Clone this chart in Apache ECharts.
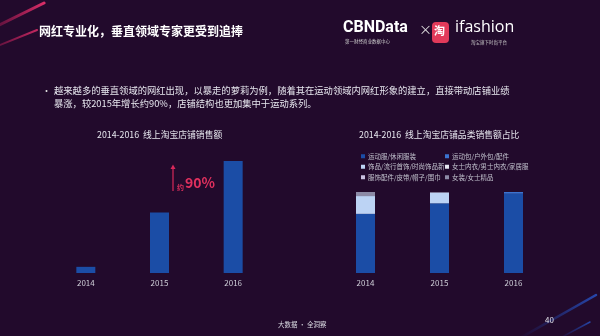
<!DOCTYPE html>
<html><head><meta charset="utf-8">
<script src="https://cdn.jsdelivr.net/npm/echarts@6/dist/echarts.min.js"></script>
<style>html,body{margin:0;padding:0;background:#220a2c;}#c{width:600px;height:336px;}</style>
</head><body><div id="c"></div>
<script>
const years = ['2014', '2015', '2016'];
const salesValues = [5.5, 54, 100];
const catNames = ['运动服/休闲服装', '运动包/户外包/配件', '饰品/流行首饰/时尚饰品新', '女士内衣/男士内衣/家居服', '服饰配件/皮带/帽子/围巾', '女装/女士精品'];
const catColors = ['#1b4da6', '#3b73d0', '#bcd3f4', '#e6e6f0', '#c8c0e0', '#8c8aa6'];
const catShares = [
  [73, 86, 98],
  [0, 0, 2],
  [22, 13, 0],
  [0, 0, 0],
  [0, 0, 0],
  [5, 1, 0]
];
const slideTitle = '网红专业化，垂直领域专家更受到追捧';
const bulletLines = ['越来越多的垂直领域的网红出现，以暴走的萝莉为例，随着其在运动领域内网红形象的建立，直接带动店铺业绩', '暴涨，较2015年增长约90%，店铺结构也更加集中于运动系列。'];
const leftTitle = '2014-2016  线上淘宝店铺销售额';
const rightTitle = '2014-2016  线上淘宝店铺品类销售额占比';

const chart = echarts.init(document.getElementById('c'));
const FONT = '"Noto Sans CJK SC", "Noto Sans", sans-serif';
const axisCommon = {
  axisLine: {show: false}, axisTick: {show: false},
  axisLabel: {color: '#cfcfd8', fontSize: 8, margin: 6, fontFamily: FONT}
};
const series = [{
  type: 'bar', xAxisIndex: 0, yAxisIndex: 0, data: salesValues, barWidth: 19,
  itemStyle: {color: '#1b4da6'}, silent: true
}];
catNames.forEach((n, i) => {
  series.push({
    name: n, type: 'bar', stack: 'share', xAxisIndex: 1, yAxisIndex: 1,
    data: catShares[i], barWidth: 19, itemStyle: {color: catColors[i]}
  });
});
const legendStyle = {
  orient: 'vertical', itemWidth: 4, itemHeight: 4, itemGap: 4, icon: 'rect',
  textStyle: {color: '#c0c0cc', fontSize: 6.5, fontFamily: FONT, padding: [0, 0, 0, -2]}, selectedMode: false
};
chart.setOption({
  backgroundColor: '#220a2c',
  animation: false,
  textStyle: {fontFamily: FONT},
  grid: [
    {left: 49, width: 221, top: 161, bottom: 63},
    {left: 328.5, width: 222, top: 192, bottom: 63}
  ],
  xAxis: [
    Object.assign({type: 'category', gridIndex: 0, data: years}, axisCommon),
    Object.assign({type: 'category', gridIndex: 1, data: years}, axisCommon)
  ],
  yAxis: [
    {type: 'value', gridIndex: 0, min: 0, max: 100, show: false},
    {type: 'value', gridIndex: 1, min: 0, max: 100, show: false}
  ],
  legend: [
    Object.assign({left: 356, top: 148, data: [catNames[0], catNames[2], catNames[4]]}, legendStyle),
    Object.assign({left: 440, top: 148, data: [catNames[1], catNames[3], catNames[5]]}, legendStyle)
  ],
  series: series,
  graphic: [
    // decorative streaks
    {type: 'line', shape: {x1: -5, y1: 27, x2: 44, y2: 3}, style: {stroke: new echarts.graphic.LinearGradient(0,0,1,0,[{offset:0,color:'rgba(200,30,90,0.3)'},{offset:1,color:'#e0306a'}]), lineWidth: 3, lineCap: 'round'}},
    {type: 'line', shape: {x1: -5, y1: 47, x2: 37, y2: 30}, style: {stroke: new echarts.graphic.LinearGradient(0,0,1,0,[{offset:0,color:'rgba(200,30,90,0.3)'},{offset:1,color:'#c82a62'}]), lineWidth: 2, lineCap: 'round'}},
    {type: 'line', shape: {x1: 520, y1: 338, x2: 596, y2: 295}, style: {stroke: new echarts.graphic.LinearGradient(0,0,1,0,[{offset:0,color:'rgba(30,70,180,0)'},{offset:1,color:'rgba(40,90,210,0.8)'}]), lineWidth: 2.5, lineCap: 'round'}},
    {type: 'line', shape: {x1: 560, y1: 338, x2: 590, y2: 322}, style: {stroke: new echarts.graphic.LinearGradient(0,0,1,0,[{offset:0,color:'rgba(30,70,180,0)'},{offset:1,color:'rgba(40,90,210,0.8)'}]), lineWidth: 1.5, lineCap: 'round'}},
    // slide title
    {type: 'text', left: 39, top: 25, style: {text: slideTitle, fill: '#ffffff', fontSize: 12, fontWeight: 'bold', fontFamily: FONT}},
    // logos
    {type: 'text', left: 343, top: 20, style: {text: 'CBNData', fill: '#ffffff', fontSize: 16, fontWeight: 'bold', fontFamily: 'Roboto, sans-serif'}},
    {type: 'text', left: 345, top: 39, style: {text: '第一财经商业数据中心', fill: '#cccccc', fontSize: 4.5, fontFamily: FONT}},
    {type: 'text', left: 419, top: 23, style: {text: '×', fill: '#dddddd', fontSize: 13, fontFamily: FONT}},
    {type: 'rect', shape: {x: 432, y: 22, width: 17, height: 21, r: 4}, style: {fill: '#e23a5a'}},
    {type: 'text', left: 434, top: 25, style: {text: '淘', fill: '#ffffff', fontSize: 11, fontWeight: 'bold', fontFamily: FONT}},
    {type: 'text', left: 455, top: 19, style: {text: 'ifashion', fill: '#ffffff', fontSize: 16, fontFamily: '"Open Sans", sans-serif'}},
    {type: 'text', left: 471, top: 40, style: {text: '淘宝旗下时尚平台', fill: '#cccccc', fontSize: 4.5, fontFamily: FONT}},
    // bullet text
    {type: 'text', left: 42, top: 86, style: {text: '•', fill: '#dddddd', fontSize: 9, fontFamily: FONT}},
    {type: 'text', left: 54, top: 86, style: {text: bulletLines[0], fill: '#e6e6ee', fontSize: 9.3, fontFamily: FONT}},
    {type: 'text', left: 54, top: 99, style: {text: bulletLines[1], fill: '#e6e6ee', fontSize: 9.3, fontFamily: FONT}},
    // chart titles
    {type: 'text', left: 97, top: 130, style: {text: leftTitle, fill: '#e6e6ee', fontSize: 8.8, fontFamily: FONT}},
    {type: 'text', left: 359, top: 130, style: {text: rightTitle, fill: '#e6e6ee', fontSize: 8.8, fontFamily: FONT}},
    // growth annotation
    {type: 'line', shape: {x1: 173, y1: 191, x2: 173, y2: 168}, style: {stroke: '#d8285a', lineWidth: 1.2}},
    {type: 'polygon', shape: {points: [[170.5, 169], [175.5, 169], [173, 164.5]]}, style: {fill: '#d8285a'}},
    {type: 'text', left: 177, top: 184, style: {text: '约', fill: '#e0305e', fontSize: 7, fontWeight: 'bold', fontFamily: FONT}},
    {type: 'text', left: 185, top: 176, style: {text: '90%', fill: '#e0305e', fontSize: 14, fontWeight: 'bold', fontFamily: FONT}},
    // footer
    {type: 'text', left: 278, top: 321, style: {text: '大数据 · 全洞察', fill: '#d8d8e0', fontSize: 6.5, fontFamily: FONT}},
    {type: 'text', left: 545, top: 316, style: {text: '40', fill: '#e0e0e8', fontSize: 8, fontFamily: FONT}}
  ]
});
</script></body></html>
